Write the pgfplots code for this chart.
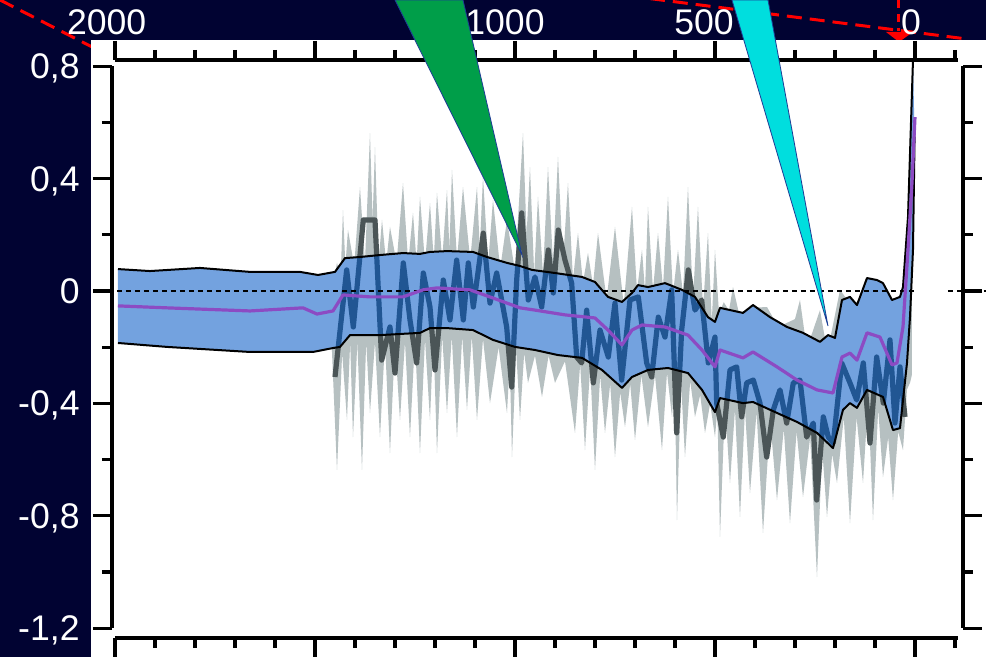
\documentclass[border=0pt]{standalone}
\usepackage{fontspec}
\setmainfont{Liberation Sans}
\usepackage{pgfplots}
\pgfplotsset{compat=1.18}
\usepackage{pgfplotstable}
\definecolor{navybg}{RGB}{1,3,50}
\definecolor{lgray}{RGB}{182,192,193}
\definecolor{dgray}{RGB}{75,85,87}
\definecolor{bandblue}{RGB}{0,87,198}
\definecolor{meanpurple}{RGB}{140,75,195}
\definecolor{tgreen}{RGB}{0,158,73}
\definecolor{tcyan}{RGB}{0,222,222}
\definecolor{tedge}{RGB}{30,60,150}
\newcommand{\lbl}{\fontsize{17.8}{20}\selectfont}
\tikzset{ylab/.style={anchor=base east, inner sep=0pt, text=white, font=\lbl, xshift=-16pt, yshift=-6.3pt},
         xlab/.style={anchor=base, inner sep=0pt, text=white, font=\lbl, yshift=12.5pt}}

% light grey envelope: upper (descending years) then lower (ascending years)
\pgfplotstableread{
year val
1458 0.00
1445 0.10
1436 0.05
1430 0.288
1424 0.09
1417.5 0.217
1402 0.09
1387.5 0.370
1375 0.10
1362.5 0.562
1356 0.25
1350 0.512
1341 0.10
1332.5 0.253
1322 0.10
1312.5 0.228
1296 0.10
1280 0.384
1267 0.10
1255 0.278
1246 0.10
1237.5 0.335
1225 0.10
1212.5 0.313
1203 0.11
1195 0.349
1182 0.11
1170 0.359
1164 0.15
1157.5 0.431
1145 0.11
1130 0.370
1112 0.11
1095 0.370
1088 0.15
1080 0.406
1067 0.10
1055 0.324
1037 0.08
1020 0.253
1000 0.07
980 0.562
971 0.20
962.5 0.441
952 0.06
942.5 0.335
930 0.06
917.5 0.441
905 0.10
892.5 0.477
880 0.10
867.5 0.384
855 0.04
842.5 0.206
830 0.03
817.5 0.135
805 0.02
792.5 0.206
771 -0.03
750 0.228
728 -0.05
707.5 0.299
695 0.00
682.5 0.146
675 0.00
667.5 0.299
655 0.00
642.5 0.206
630 0.01
617.5 0.335
605 -0.01
592.5 0.146
580 -0.01
567.5 0.370
555 -0.03
542.5 0.299
530 -0.06
517.5 0.206
508 -0.11
500 0.146
490 -0.08
478 -0.04
465 -0.07
455 0.014
440 -0.08
410 -0.06
370 -0.057
345 -0.12
330 -0.12
300 -0.10
287.5 -0.032
275 -0.16
262 -0.17
237.5 -0.068
225 -0.17
212 -0.17
187.5 0.004
170 -0.03
150 -0.05
112.5 0.039
75 0.02
57.5 -0.032
37.5 -0.032
25 0.00
12.5 0.10
8 0.20
8 -0.30
12.5 -0.327
20 -0.35
30 -0.566
42 -0.50
55 -0.744
67 -0.52
80 -0.662
92 -0.42
105 -0.815
117 -0.38
130 -0.683
146 -0.45
162.5 -0.826
178 -0.45
195 -0.683
207 -0.58
220 -0.804
232 -0.56
245 -1.018
262 -0.52
280 -0.733
296 -0.50
312.5 -0.826
328 -0.49
345 -0.744
362 -0.46
380 -0.861
396 -0.43
412.5 -0.719
425 -0.42
437.5 -0.804
450 -0.42
462.5 -0.683
475 -0.40
487.5 -0.875
494 -0.42
500 -0.520
512 -0.40
525 -0.505
537 -0.37
550 -0.448
562 -0.32
575 -0.591
585 -0.32
595 -0.815
601 -0.30
607.5 -0.448
620 -0.29
632.5 -0.566
650 -0.30
667.5 -0.484
684 -0.30
700 -0.530
712 -0.33
725 -0.484
737 -0.36
750 -0.591
762 -0.33
775 -0.505
787 -0.30
800 -0.637
812 -0.27
825 -0.566
837 -0.26
850 -0.505
875 -0.25
900 -0.327
916 -0.23
932.5 -0.377
950 -0.23
967.5 -0.327
977 -0.22
987.5 -0.459
997 -0.21
1007.5 -0.591
1013 -0.25
1020 -0.434
1041 -0.20
1062.5 -0.399
1080 -0.17
1095 -0.459
1108 -0.16
1120 -0.423
1132 -0.16
1145 -0.520
1158 -0.16
1170 -0.434
1182 -0.16
1195 -0.577
1204 -0.16
1212.5 -0.459
1225 -0.17
1237.5 -0.577
1250 -0.17
1262.5 -0.520
1275 -0.18
1287.5 -0.459
1300 -0.18
1312.5 -0.577
1325 -0.18
1337.5 -0.520
1350 -0.18
1362.5 -0.434
1372 -0.18
1382.5 -0.637
1394 -0.18
1405 -0.520
1412 -0.18
1420 -0.459
1432 -0.22
1445 -0.637
1458 -0.20
}\grayenv

% smoothed series (dark grey)
\pgfplotstableread{
year val
1450 -0.306
1420.8 0.075
1404.2 -0.128
1379.2 0.253
1350 0.253
1333.3 -0.246
1312.5 -0.128
1300 -0.292
1279.2 0.100
1262.5 -0.103
1245.8 -0.256
1229.2 0.064
1212.5 -0.057
1200 -0.281
1179.2 0.039
1162.5 -0.103
1145.8 0.110
1129.2 -0.103
1116.7 0.100
1104.2 -0.057
1079.2 0.206
1062.5 -0.043
1045.8 0.064
1020.8 -0.128
1008.3 -0.342
995.8 0.039
983.3 0.278
966.7 -0.032
950 0.050
933.3 -0.057
916.7 0.146
904.2 -0.007
891.7 0.217
875 0.110
858.3 0.028
845.8 -0.235
833.3 -0.256
820.8 -0.068
804.2 -0.327
787.5 -0.139
766.7 -0.235
750 -0.043
733.3 -0.317
712.5 -0.032
691.7 -0.021
670.8 -0.256
658.3 -0.306
641.7 -0.093
625 -0.164
608.3 0.004
595.8 -0.505
583.3 -0.139
566.7 0.075
550 -0.068
533.3 -0.032
516.7 -0.256
500 -0.164
495.8 -0.399
479.2 -0.520
462.5 -0.281
445.8 -0.270
433.3 -0.448
420.8 -0.327
404.2 -0.317
387.5 -0.399
370.8 -0.591
354.2 -0.423
337.5 -0.352
320.8 -0.470
304.2 -0.327
287.5 -0.317
270.8 -0.520
254.2 -0.470
245.8 -0.744
229.2 -0.448
216.7 -0.520
204.2 -0.541
183.3 -0.256
162.5 -0.327
145.8 -0.388
129.2 -0.256
112.5 -0.541
95.8 -0.235
79.2 -0.399
62.5 -0.174
50 -0.470
37.5 -0.270
25 -0.448
}\darkline

% uncertainty band: upper bound (rows 0-51, descending) then lower bound (ascending)
\pgfplotstableread{
year val
1992.5 0.078
1912.5 0.071
1787.5 0.082
1662.5 0.068
1537.5 0.068
1492.5 0.057
1450 0.068
1425 0.117
1387.5 0.121
1337.5 0.128
1280 0.135
1237.5 0.132
1212.5 0.139
1170 0.142
1105 0.139
1070 0.121
1020 0.100
987.5 0.089
957.5 0.075
900 0.064
832.5 0.050
800 0.032
767.5 -0.021
732.5 -0.039
707.5 -0.007
692.5 0.021
667.5 0.014
625 0.028
582.5 0.004
550 -0.021
517.5 -0.093
500 -0.110
487.5 -0.060
430 -0.078
405 -0.050
362.5 -0.093
320 -0.128
280 -0.149
237.5 -0.181
217.5 -0.157
200 -0.167
182.5 -0.032
162.5 -0.021
145 -0.050
120 0.046
95 0.039
80 0.028
57.5 -0.032
37.5 -0.021
30 0.014
17.5 0.263
5 0.822
1 0.55
5 0.146
12.5 -0.093
20 -0.256
37.5 -0.488
55 -0.495
80 -0.377
120 -0.352
145 -0.416
162.5 -0.399
180 -0.423
205 -0.559
245 -0.505
295 -0.466
345 -0.434
405 -0.395
430 -0.399
487.5 -0.381
500 -0.431
532.5 -0.352
567.5 -0.292
617.5 -0.274
667.5 -0.281
707.5 -0.306
732.5 -0.345
782.5 -0.281
832.5 -0.238
892.5 -0.228
950 -0.210
1000 -0.199
1055 -0.174
1105 -0.139
1170 -0.132
1212.5 -0.132
1237.5 -0.149
1337.5 -0.157
1412.5 -0.157
1437.5 -0.199
1455 -0.203
1505 -0.217
1662.5 -0.217
1870 -0.199
1992.5 -0.185
}\band

% mean (purple)
\pgfplotstableread{
year val
1992.5 -0.053
1870 -0.060
1662.5 -0.071
1530 -0.060
1495 -0.082
1455 -0.071
1430 -0.014
1362.5 -0.021
1280 -0.021
1230 0.004
1195 0.011
1112.5 0.004
1055 -0.025
987.5 -0.060
950 -0.068
875 -0.085
800 -0.096
767.5 -0.139
732.5 -0.192
707.5 -0.139
682.5 -0.121
625 -0.128
567.5 -0.157
532.5 -0.210
500 -0.270
487.5 -0.210
430 -0.238
405 -0.217
345 -0.270
295 -0.317
245 -0.352
205 -0.363
182.5 -0.235
162.5 -0.221
145 -0.246
120 -0.149
87.5 -0.164
57.5 -0.263
45 -0.256
30 -0.128
17.5 0.146
7.5 0.384
0 0.619
}\meanline

\begin{document}
\begin{tikzpicture}[x=1pt,y=1pt]
\fill[navybg] (0,0) rectangle (493,328.5);
\draw[red, line width=1.5pt, dash pattern=on 7.5pt off 4pt] (0,328.5) -- (50,303);
\draw[red, line width=1.5pt, dash pattern=on 7.5pt off 4pt] (325,329.2) -- (481,309.3);
\draw[red, line width=1.5pt, dash pattern=on 4pt off 3pt] (449,328.5) -- (449,313);
\fill[red] (443,312.5) -- (456.5,312.5) -- (449.5,307.5) -- cycle;
\fill[white] (45.5,0) rectangle (493,308.5);
\begin{axis}[
  at={(56pt,9.5pt)}, anchor=south west,
  scale only axis, width=425.5pt, height=289pt,
  x dir=reverse,
  xmin=-120, xmax=2007.5, ymin=-1.2349, ymax=0.8221,
  clip mode=individual,
  axis line style={draw=none},
  tick align=outside,
  major tick length=9.5pt, minor tick length=5pt,
  tick style={black, line width=1.6pt},
  xtick={0,500,1000,1500,2000},
  minor xtick={-100,100,200,300,400,600,700,800,900,1100,1200,1300,1400,1600,1700,1800,1900},
  ytick={-1.2,-0.8,-0.4,0,0.4,0.8},
  minor ytick={-1,-0.6,-0.2,0.2,0.6},
  xticklabel=\empty, yticklabel=\empty,
]
\addplot[draw=none, fill=lgray] table[x=year, y=val] {\grayenv};
\addplot[draw=none, fill=white] table[x=year, y=val] {\band};
\addplot[dgray, line width=2.6pt, line join=round] table[x=year, y=val] {\darkline};
\addplot[draw=none, fill=bandblue, fill opacity=0.55] table[x=year, y=val] {\band};
\addplot[black, line width=1pt, line join=round, skip coords between index={52}{1000}] table[x=year, y=val] {\band};
\addplot[black, line width=1pt, line join=round, skip coords between index={0}{52}] table[x=year, y=val] {\band};
\draw[black, line width=0.8pt, dash pattern=on 2.5pt off 2pt] (axis cs:1995,0) -- (axis cs:-2,0);
\draw[black, line width=0.8pt, dash pattern=on 2.5pt off 2pt] (axis cs:-82,0) -- (axis cs:-180,0);
\addplot[meanpurple, line width=1.6pt, line join=round] table[x=year, y=val] {\meanline};
% frame lines
\draw[black, line width=2pt] (axis cs:2000,0.8221) -- (axis cs:-107,0.8221);
\draw[black, line width=2pt] (axis cs:2000,-1.2349) -- (axis cs:-107,-1.2349);
\draw[black, line width=2pt] (axis cs:2007.5,0.8) -- (axis cs:2007.5,-1.2);
\draw[black, line width=2pt] (axis cs:-120,0.8) -- (axis cs:-120,-1.2);
% tick labels
\node[ylab] at (axis cs:2007.5,0.8) {0,8};
\node[ylab] at (axis cs:2007.5,0.4) {0,4};
\node[ylab] at (axis cs:2007.5,0) {0};
\node[ylab] at (axis cs:2007.5,-0.4) {-0,4};
\node[ylab] at (axis cs:2007.5,-0.8) {-0,8};
\node[ylab] at (axis cs:2007.5,-1.2) {-1,2};
\node[xlab] at (axis cs:2020.75,0.8221) {2000};
\node[xlab] at (axis cs:1025,0.8221) {1000};
\node[xlab] at (axis cs:527.5,0.8221) {500};
\node[xlab] at (axis cs:10,0.8221) {0};
\end{axis}
\fill[tgreen, draw=tedge, line width=0.4pt] (197.5,328.5) -- (231.5,328.5) -- (261,201) -- cycle;
\fill[tcyan, draw=tedge, line width=0.4pt] (366,328.5) -- (384,328.5) -- (414,165.5) -- cycle;
\pgfresetboundingbox
\useasboundingbox (0,0) rectangle (493,328.5);
\end{tikzpicture}
\end{document}
